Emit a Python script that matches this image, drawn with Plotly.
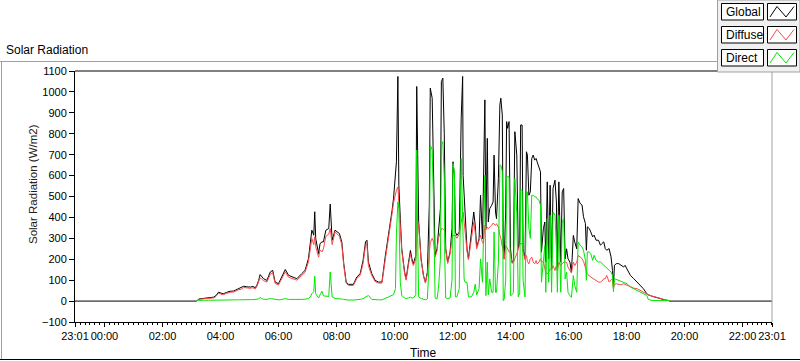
import plotly.graph_objects as go

# ---------------- data (minutes after midnight, W/m2) ----------------
time_min = [-61, 0, 190, 191, 195, 205, 215, 226, 231, 236, 241, 246, 253, 260, 267, 273, 277, 283, 288, 295,
            302, 307, 312, 315, 319, 322, 325, 329, 336, 343, 348, 353, 360, 367, 374, 381, 391, 398, 408, 415,
            422, 426, 429, 433, 435, 437, 443, 446, 450, 453, 458, 464, 467, 471, 477, 486, 491, 495, 500, 505,
            515, 522, 529, 535, 540, 543, 546, 553, 560, 567, 574, 581, 588, 595, 598, 602, 604, 607, 609, 612,
            615, 621, 624, 629, 633, 636, 639, 644, 646, 648, 650, 655, 660, 664, 668, 672, 674, 678, 681, 684,
            688, 691, 695, 697, 700, 703, 704, 706, 710, 715, 719, 721, 724, 726, 729, 734, 738, 741, 742, 744,
            746, 750, 753, 759, 764, 767, 770, 775, 778, 782, 784, 787, 789, 792, 794, 797, 801, 804, 806, 809,
            811, 815, 818, 820, 823, 825, 827, 830, 832, 834, 837, 840, 843, 846, 849, 853, 856, 859, 861, 864,
            866, 870, 873, 875, 878, 881, 884, 887, 890, 893, 895, 899, 902, 904, 908, 911, 913, 916, 919, 922,
            925, 928, 932, 935, 937, 940, 944, 947, 950, 953, 956, 959, 963, 966, 970, 973, 977, 980, 984, 988,
            991, 995, 997, 999, 1003, 1006, 1010, 1013, 1017, 1022, 1026, 1029, 1033, 1036, 1039, 1044, 1048, 1051, 1053, 1055,
            1059, 1064, 1068, 1074, 1077, 1081, 1088, 1095, 1102, 1108, 1115, 1122, 1125, 1133, 1143, 1153, 1160, 1167, 1168, 1381]

global_wm2 = [0, 0, 0, 0, 10, 14, 16, 19, 27, 43, 38, 35, 42, 47, 48, 55, 59, 63, 71, 68,
              67, 70, 64, 75, 99, 127, 118, 107, 99, 139, 147, 91, 83, 115, 151, 123, 115, 107, 131, 147,
              203, 275, 339, 315, 427, 299, 227, 275, 283, 283, 339, 347, 464, 291, 339, 323, 283, 179, 91, 80,
              80, 115, 131, 195, 283, 291, 187, 131, 99, 91, 91, 215, 314, 434, 490, 586, 666, 1074, 554, 394,
              250, 138, 106, 186, 242, 202, 178, 218, 1026, 700, 380, 202, 122, 90, 138, 458, 1018, 970, 618, 218,
              250, 346, 442, 1050, 1066, 800, 458, 250, 186, 234, 346, 666, 600, 330, 314, 330, 874, 1074, 600, 506,
              410, 250, 202, 314, 426, 362, 258, 298, 506, 298, 506, 962, 346, 778, 378, 442, 458, 474, 698, 426,
              394, 586, 938, 970, 890, 250, 202, 426, 858, 826, 858, 250, 186, 190, 810, 698, 250, 282, 842, 842,
              250, 202, 714, 698, 506, 522, 682, 698, 674, 682, 666, 634, 618, 234, 346, 378, 186, 570, 202, 554,
              154, 538, 578, 474, 154, 570, 186, 522, 538, 202, 250, 202, 186, 138, 314, 282, 250, 490, 467, 459,
              403, 371, 243, 355, 347, 331, 307, 315, 291, 291, 267, 275, 283, 251, 243, 251, 211, 147, 65, 171,
              179, 179, 171, 163, 171, 155, 123, 107, 91, 75, 59, 35, 30, 23, 15, 8, 5, 3, 0, 0]

diffuse_wm2 = [None, None, None, 0, 8, 11, 13, 15, 23, 38, 33, 31, 37, 42, 43, 50, 54, 57, 65, 63,
               61, 64, 58, 68, 90, 112, 105, 98, 91, 128, 136, 84, 77, 106, 140, 114, 107, 100, 122, 138,
               188, 252, 300, 270, 307, 260, 210, 245, 235, 250, 310, 320, 347, 270, 331, 310, 270, 170, 85, 75,
               75, 108, 123, 180, 265, 270, 170, 122, 93, 86, 86, 200, 300, 418, 470, 522, 530, 546, 474, 378,
               240, 130, 100, 175, 226, 190, 170, 202, 320, 378, 365, 195, 118, 86, 130, 250, 280, 300, 282, 210,
               240, 300, 340, 346, 346, 340, 330, 245, 180, 226, 300, 314, 314, 314, 300, 320, 378, 426, 426, 380,
               330, 240, 198, 300, 378, 330, 250, 290, 314, 280, 274, 362, 340, 354, 346, 354, 362, 373, 370, 362,
               370, 354, 314, 300, 260, 245, 200, 266, 260, 250, 234, 230, 180, 185, 202, 226, 245, 275, 275, 274,
               240, 198, 218, 190, 178, 202, 210, 186, 178, 194, 178, 186, 202, 190, 186, 146, 138, 130, 138, 154,
               150, 170, 146, 170, 146, 186, 170, 178, 186, 186, 186, 162, 146, 134, 186, 170, 186, 218, 211, 203,
               190, 155, 140, 131, 120, 115, 110, 107, 100, 91, 91, 95, 107, 107, 123, 91, 100, 107, 60, 80,
               83, 80, 78, 83, 80, 75, 67, 62, 59, 51, 45, 35, 30, 24, 19, 11, 6, 3, 2, None]

direct_wm2 = [None, None, None, 3, 4, 4, 4, 5, 5, 5, 5, 5, 5, 5, 6, 6, 6, 7, 7, 6,
              7, 7, 7, 8, 10, 18, 12, 9, 8, 12, 10, 6, 6, 8, 12, 8, 7, 6, 8, 9,
              12, 20, 35, 45, 119, 35, 15, 30, 47, 25, 25, 22, 139, 20, 12, 12, 10, 8, 6, 5,
              5, 6, 8, 12, 18, 22, 27, 8, 6, 6, 6, 15, 20, 28, 30, 60, 322, 474, 442, 90,
              26, 15, 12, 15, 18, 15, 15, 30, 722, 300, 20, 12, 8, 6, 10, 200, 746, 722, 442, 15,
              10, 60, 200, 746, 762, 586, 200, 15, 12, 15, 100, 658, 618, 20, 20, 60, 682, 474, 300, 106,
              90, 90, 20, 20, 42, 80, 30, 60, 202, 90, 282, 602, 26, 186, 30, 106, 42, 42, 330, 42,
              42, 186, 650, 650, 620, 2, 10, 100, 594, 594, 594, 26, 30, 40, 586, 420, 20, 40, 530, 530,
              100, 20, 522, 522, 350, 300, 506, 506, 498, 498, 490, 482, 458, 90, 218, 266, 42, 394, 90, 410,
              42, 426, 410, 250, 42, 410, 42, 378, 394, 106, 138, 42, 26, 18, 122, 74, 42, 282, 267, 259,
              243, 195, 99, 235, 235, 227, 195, 219, 195, 187, 187, 180, 171, 165, 155, 147, 139, 123, 45, 107,
              103, 99, 95, 88, 85, 83, 67, 58, 51, 43, 35, 27, 8, 3, 3, 3, 3, 2, 2, None]

series_names = ["Global", "Diffuse", "Direct"]
series_colors = ["#000000", "#ff4848", "#00e800"]

x_tick_vals = [-61, 0, 120, 240, 360, 480, 600, 720, 840, 960, 1080, 1200, 1320, 1381]
x_tick_text = ["23:01", "00:00", "02:00", "04:00", "06:00", "08:00", "10:00", "12:00",
               "14:00", "16:00", "18:00", "20:00", "22:00", "23:01"]
y_tick_vals = [-100, 0, 100, 200, 300, 400, 500, 600, 700, 800, 900, 1000, 1100]

chart_title = "Solar Radiation"
y_title = "Solar Radiation (W/m2)"
x_title = "Time"

# ---------------- layout geometry (pixels) ----------------
W, H = 800, 361
L, R, T, B = 75, 772, 71, 322
PW, PH = R - L, B - T


def xp(px):
    return (px - L) / PW


def yp(py):
    return (B - py) / PH


FONT = "Liberation Sans"
TICK_SIZE = 11

fig = go.Figure()
for name, color, vals in zip(series_names, series_colors, [global_wm2, diffuse_wm2, direct_wm2]):
    fig.add_trace(go.Scatter(x=time_min, y=vals, mode="lines", name=name,
                             line=dict(color=color, width=1), connectgaps=False))

fig.update_layout(
    width=W, height=H,
    margin=dict(l=L, r=W - R, t=T, b=H - B, pad=0, autoexpand=False),
    paper_bgcolor="white", plot_bgcolor="white",
    showlegend=False,
    font=dict(family=FONT, size=TICK_SIZE, color="#000000"),
)
fig.update_xaxes(range=[-61, 1381], tickvals=x_tick_vals, ticktext=x_tick_text,
                 tickangle=0, automargin=False,
                 ticks="outside", ticklen=4, tickcolor="#000", tickwidth=1,
                 showline=True, linecolor="#000", linewidth=1,
                 showgrid=False, zeroline=False,
                 minor=dict(ticks="outside", ticklen=2, dtick=10, tick0=0, tickcolor="#000", showgrid=False),
                 tickfont=dict(size=TICK_SIZE))
fig.update_yaxes(range=[-100, 1100], tickvals=y_tick_vals, automargin=False,
                 ticks="outside", ticklen=5, tickcolor="#000", tickwidth=1,
                 showline=True, linecolor="#000", linewidth=1,
                 showgrid=False, zeroline=False, tickfont=dict(size=TICK_SIZE))

shapes = []
# plot frame top (black) and right (gray)
shapes.append(dict(type="line", xref="paper", yref="paper", x0=0, x1=1, y0=1, y1=1,
                   line=dict(color="#000", width=1)))
shapes.append(dict(type="line", xref="paper", yref="paper", x0=1, x1=1, y0=0, y1=1,
                   line=dict(color="#a0a0a0", width=1)))
# outer frame
shapes.append(dict(type="line", xref="paper", yref="paper", x0=xp(0), x1=xp(717), y0=yp(61.5), y1=yp(61.5),
                   line=dict(color="#a0a0a0", width=1)))
shapes.append(dict(type="line", xref="paper", yref="paper", x0=xp(1.5), x1=xp(1.5), y0=yp(61.5), y1=yp(359.5),
                   line=dict(color="#a0a0a0", width=1)))
shapes.append(dict(type="line", xref="paper", yref="paper", x0=xp(0), x1=xp(800), y0=yp(359.5), y1=yp(359.5),
                   line=dict(color="#000", width=1)))
# legend panel
shapes.append(dict(type="rect", xref="paper", yref="paper", x0=xp(717.5), x1=xp(800), y0=yp(0), y1=yp(72),
                   fillcolor="#f0f0f0", line=dict(color="#a0a0a0", width=1), layer="above"))

annotations = []
row_tops = [3.5, 26.5, 49.5]
for name, color, top in zip(series_names, series_colors, row_tops):
    bot = top + 16.5
    shapes.append(dict(type="rect", xref="paper", yref="paper", x0=xp(721.5), x1=xp(763.5),
                       y0=yp(top), y1=yp(bot), fillcolor="white",
                       line=dict(color="#000", width=1), layer="above"))
    shapes.append(dict(type="rect", xref="paper", yref="paper", x0=xp(767.5), x1=xp(796.5),
                       y0=yp(top), y1=yp(bot), fillcolor="white",
                       line=dict(color="#000", width=1), layer="above"))
    path = "M {:.5f} {:.5f} L {:.5f} {:.5f} L {:.5f} {:.5f} L {:.5f} {:.5f}".format(
        xp(770), yp(bot - 3), xp(777), yp(top + 3), xp(786), yp(bot - 3), xp(794), yp(top + 3))
    shapes.append(dict(type="path", xref="paper", yref="paper", path=path,
                       line=dict(color=color, width=1), layer="above"))
    annotations.append(dict(text=name, xref="paper", yref="paper", x=xp(724), y=yp((top + bot) / 2),
                            xanchor="left", yanchor="middle", showarrow=False,
                            font=dict(family=FONT, size=12, color="#000")))

annotations.append(dict(text=chart_title, xref="paper", yref="paper", x=xp(4), y=yp(50),
                        xanchor="left", yanchor="middle", showarrow=False,
                        font=dict(family=FONT, size=12, color="#000")))
annotations.append(dict(text=y_title, xref="paper", yref="paper", x=xp(33), y=yp(184),
                        xanchor="center", yanchor="middle", showarrow=False, textangle=-90,
                        font=dict(family=FONT, size=11.5, color="#202020")))
annotations.append(dict(text=x_title, xref="paper", yref="paper", x=0.5, y=yp(353),
                        xanchor="center", yanchor="middle", showarrow=False,
                        font=dict(family=FONT, size=12, color="#000")))

fig.update_layout(shapes=shapes, annotations=annotations)

fig.write_html("out.html", config={"displayModeBar": False},
               post_script="document.body.style.margin='0';")
